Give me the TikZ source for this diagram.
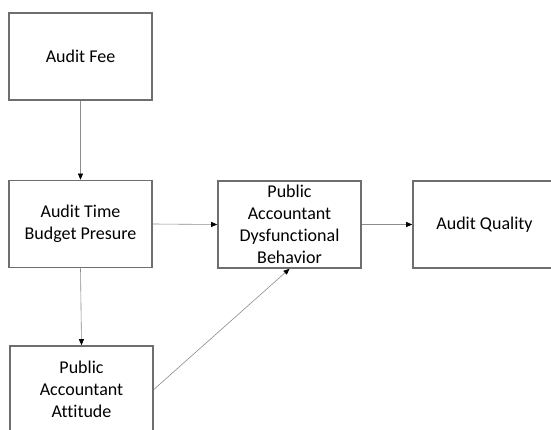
\documentclass[tikz,border=0pt]{standalone}
\usepackage{fontspec}
\setmainfont{Carlito}[Ligatures=NoCommon]
\usetikzlibrary{arrows.meta, positioning, calc}
\definecolor{BoxGray}{RGB}{110,110,110}
\definecolor{LineGray}{RGB}{140,140,140}

\begin{document}
\begin{tikzpicture}[x=1pt, y=-1pt,
    box/.style={draw=BoxGray, line width=1.6pt, minimum width=143pt, minimum height=87pt, inner sep=0pt, align=center, font=\fontsize{18}{22}\selectfont},
    conn/.style={draw=LineGray, line width=0.6pt, -{Triangle[black, length=6pt, width=5pt]}}]
    \useasboundingbox (0,0) rectangle (551,430);
    \begin{scope}
    \clip (0,0) rectangle (551,430);
    \node[box] (fee) at (80.5,56.5) {Audit Fee};
    \node[box] (time) at (80.5,224) {Audit Time\\Budget Presure};
    \node[box] (dysf) at (289.5,224.5) {Public\\Accountant\\Dysfunctional\\Behavior};
    \node[box] (quality) at (484.5,224.5) {Audit Quality};
    \node[box] (attitude) at (81.5,389.5) {Public\\Accountant\\Attitude};
    \end{scope}
    \draw[conn] (fee.south) -- (time.north);
    \draw[conn] (time.east) -- (dysf.west);
    \draw[conn] (dysf.east) -- (quality.west);
    \draw[conn] (time.south) -- (attitude.north);
    \draw[conn] (attitude.east) -- (dysf.south);
\end{tikzpicture}
\end{document}
